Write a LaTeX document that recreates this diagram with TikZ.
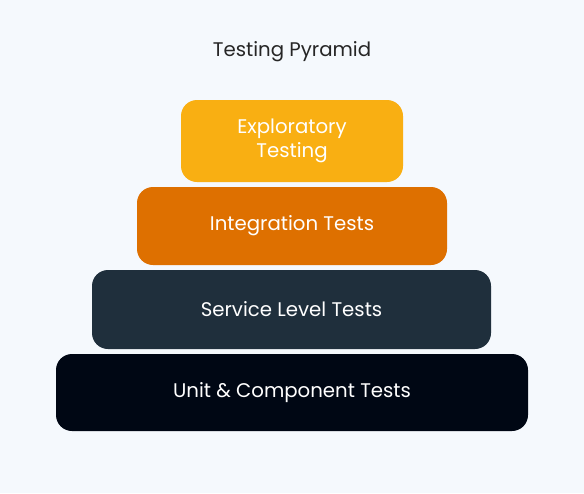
\documentclass[tikz,border=0pt]{standalone}
\usepackage{fontspec}
\setmainfont{Poppins}
\definecolor{bgcol}{HTML}{F5F9FD}
\definecolor{explcol}{HTML}{F9AF12}
\definecolor{integcol}{HTML}{DE7000}
\definecolor{servcol}{HTML}{1F2F3C}
\definecolor{unitcol}{HTML}{000714}
\tikzset{
  layer/.style={rounded corners=12pt, inner sep=0pt, text=white, align=center,
    font=\fontsize{14.8}{18}\selectfont},
  title/.style={font=\fontsize{14.8}{18}\selectfont, text=black!85}
}
\begin{document}
\begin{tikzpicture}[x=0.75pt,y=-0.75pt]
  \fill[bgcol] (0,0) rectangle (584,493);
  \useasboundingbox (0,0) rectangle (584,493);

  \node[title] (title) at (292,52) {Testing Pyramid};

  \node[layer, fill=explcol, minimum width=166.5pt, minimum height=61.5pt] (expl) at (292,141) {Exploratory\\Testing};
  \node[layer, fill=integcol, minimum width=232.5pt, minimum height=58.5pt] (integ) at (292,226) {Integration Tests};
  \node[layer, fill=servcol, minimum width=299.25pt, minimum height=59.25pt] (serv) at (291.5,309.5) {Service Level Tests};
  \node[layer, fill=unitcol, minimum width=354pt, minimum height=57.75pt] (unit) at (292,392.5) {Unit \& Component Tests};
\end{tikzpicture}
\end{document}
